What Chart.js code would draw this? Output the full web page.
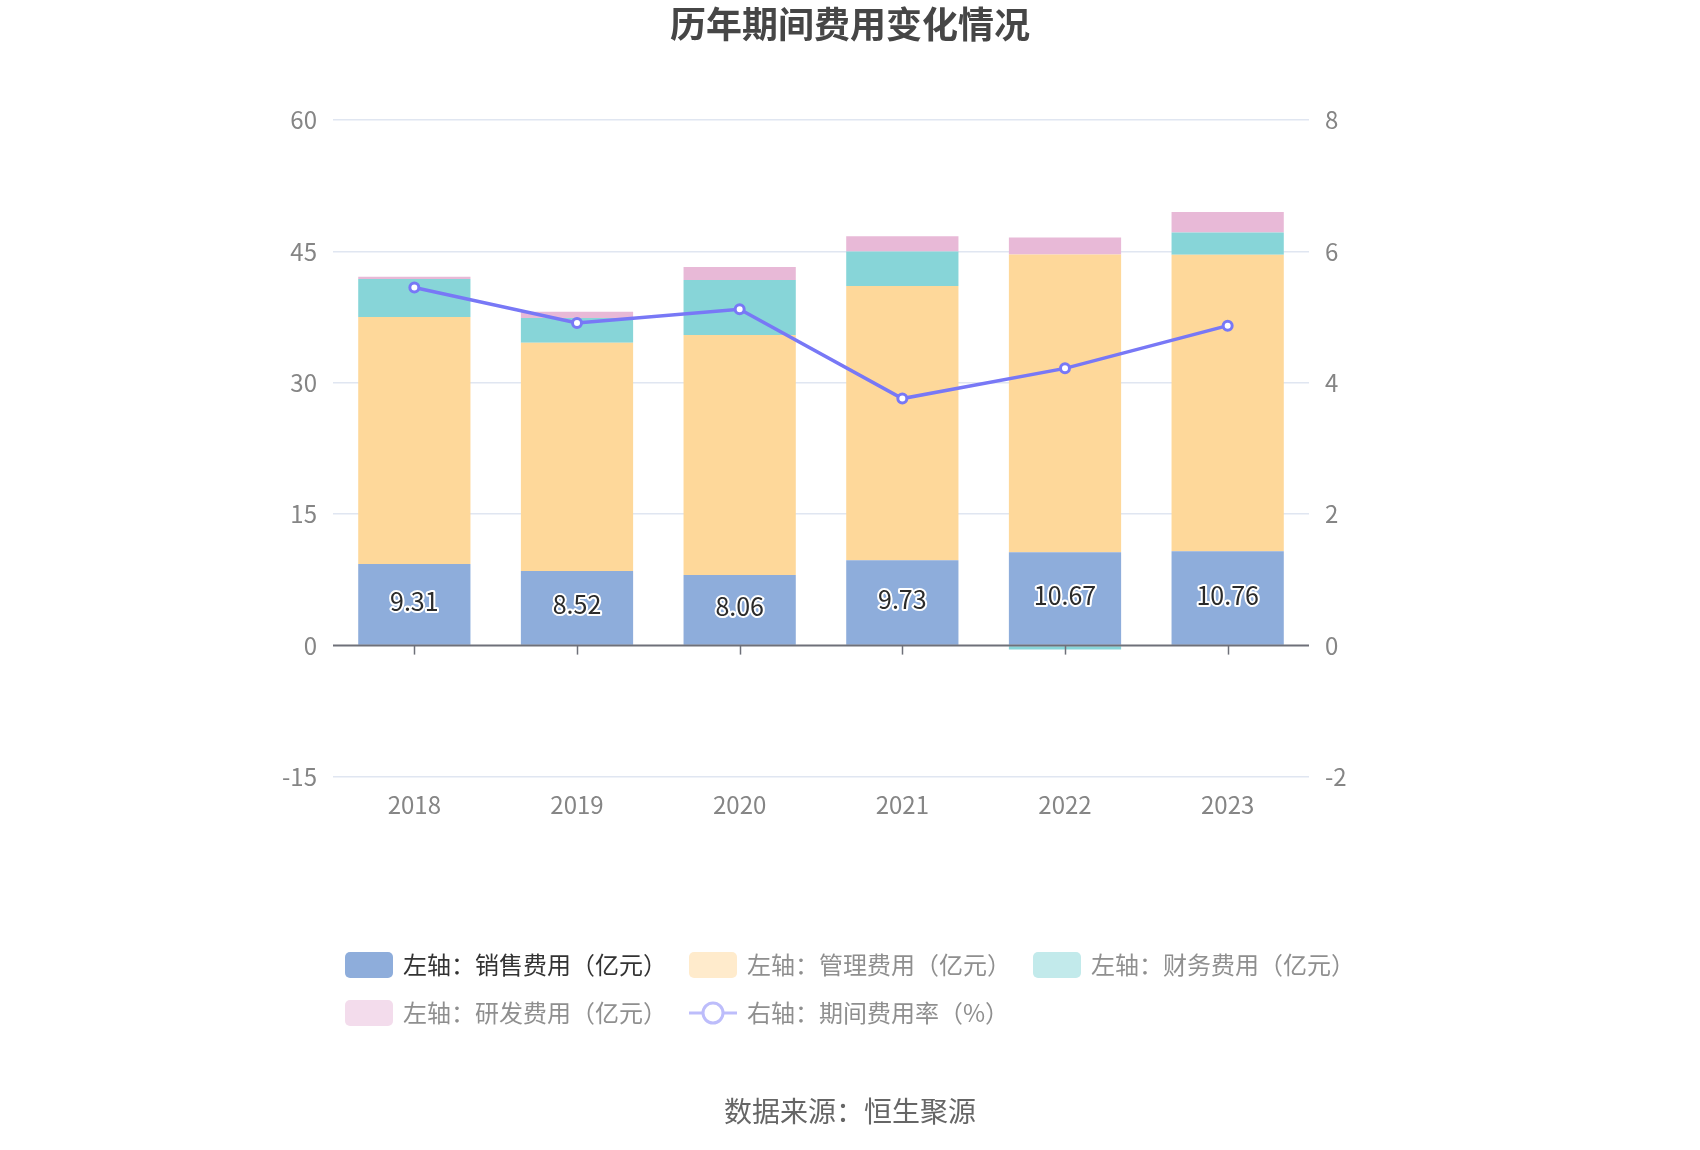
<!DOCTYPE html>
<html lang="zh-CN">
<head>
  <meta charset="UTF-8">
  <title>历年期间费用变化情况</title>
  <script src="https://cdn.jsdelivr.net/npm/chart.js"></script>
  <style>
    body {
      margin: 0;
      background: #ffffff;
    }

    canvas {
      display: block;
    }
  </style>
</head>
<body>
  <canvas id="feeChart" width="1700" height="1150"></canvas>
  <script>
    // data
    const years = ['2018', '2019', '2020', '2021', '2022', '2023'];
    const salesFee = [9.31, 8.52, 8.06, 9.73, 10.67, 10.76];
    const adminFee = [28.21, 26.04, 27.41, 31.32, 33.98, 33.85];
    const financeFee = [4.32, 2.84, 6.26, 3.94, -0.45, 2.54];
    const rdFee = [0.27, 0.72, 1.48, 1.75, 1.93, 2.36];
    const feeRate = [5.45, 4.91, 5.12, 3.76, 4.22, 4.87];
    const leftTicks = [-15, 0, 15, 30, 45, 60];
    const rightTicks = [-2, 0, 2, 4, 6, 8];
    const seriesNames = [
      '左轴：销售费用（亿元）',
      '左轴：管理费用（亿元）',
      '左轴：财务费用（亿元）',
      '左轴：研发费用（亿元）',
      '右轴：期间费用率（%）'
    ];
    const chartTitle = '历年期间费用变化情况';
    const sourceText = '数据来源：恒生聚源';

    const FONT = '"Noto Sans CJK SC", "Noto Sans", sans-serif';
    const barColors = ['#8eaddb', '#fed89a', '#87d5d8', '#e8b9d7'];
    const lineColor = '#7878f6';
    // legend swatches: first item active, the rest faded
    const legendColors = ['#8eaddb', '#ffebcc', '#c2eaeb', '#f3dcec', '#bdbdfb'];
    const legendText = ['#333333', '#8f8f8f', '#8f8f8f', '#8f8f8f', '#8f8f8f'];
    const axisColor = '#6e7079';

    function roundRect(ctx, x, y, w, h, r) {
      ctx.beginPath();
      ctx.moveTo(x + r, y);
      ctx.arcTo(x + w, y, x + w, y + h, r);
      ctx.arcTo(x + w, y + h, x, y + h, r);
      ctx.arcTo(x, y + h, x, y, r);
      ctx.arcTo(x, y, x + w, y, r);
      ctx.closePath();
    }

    const decor = {
      id: 'decor',
      afterDatasetsDraw(chart) {
        const { ctx, chartArea, scales } = chart;
        const y0 = scales.y.getPixelForValue(0);
        ctx.save();
        // zero axis line with ticks
        ctx.strokeStyle = axisColor;
        ctx.lineWidth = 2;
        ctx.beginPath();
        ctx.moveTo(chartArea.left, y0);
        ctx.lineTo(chartArea.right, y0);
        ctx.stroke();
        ctx.lineWidth = 1.5;
        years.forEach((_, i) => {
          const x = Math.round(scales.x.getPixelForValue(i)) + 0.5;
          ctx.beginPath();
          ctx.moveTo(x, y0);
          ctx.lineTo(x, y0 + 9);
          ctx.stroke();
        });
        // sales labels inside the bars
        const meta = chart.getDatasetMeta(0);
        ctx.font = '25px ' + FONT;
        ctx.textAlign = 'center';
        ctx.textBaseline = 'middle';
        ctx.lineJoin = 'round';
        meta.data.forEach((bar, i) => {
          const label = salesFee[i].toFixed(2);
          const cy = (bar.y + bar.base) / 2 - 3;
          ctx.strokeStyle = '#ffffff';
          ctx.lineWidth = 4;
          ctx.strokeText(label, bar.x, cy);
          ctx.fillStyle = '#2b2b2b';
          ctx.fillText(label, bar.x, cy);
        });
        ctx.restore();
      },
      afterDraw(chart) {
        const { ctx, chartArea, width } = chart;
        ctx.save();
        // title
        ctx.font = 'bold 36px ' + FONT;
        ctx.fillStyle = '#464646';
        ctx.textAlign = 'center';
        ctx.textBaseline = 'middle';
        ctx.fillText(chartTitle, width / 2, 24);

        // legend, rows of three, left aligned
        ctx.font = '24px ' + FONT;
        ctx.textAlign = 'left';
        const startX = chartArea.left + 12;
        const rowY = [chartArea.bottom + 188, chartArea.bottom + 236];
        let x = startX;
        seriesNames.forEach((name, i) => {
          const row = Math.floor(i / 3);
          if (i % 3 === 0) x = startX;
          const cy = rowY[row];
          if (i < 4) {
            ctx.fillStyle = legendColors[i];
            roundRect(ctx, x, cy - 13, 48, 26, 5);
            ctx.fill();
          } else {
            ctx.strokeStyle = legendColors[i];
            ctx.lineWidth = 3;
            ctx.beginPath();
            ctx.moveTo(x, cy);
            ctx.lineTo(x + 48, cy);
            ctx.stroke();
            ctx.beginPath();
            ctx.arc(x + 24, cy, 10, 0, Math.PI * 2);
            ctx.fillStyle = '#ffffff';
            ctx.fill();
            ctx.stroke();
          }
          ctx.fillStyle = legendText[i];
          ctx.fillText(name, x + 58, cy);
          x += 48 + 10 + ctx.measureText(name).width + 22;
        });

        // source
        ctx.font = '28px ' + FONT;
        ctx.fillStyle = '#666666';
        ctx.textAlign = 'center';
        ctx.fillText(sourceText, width / 2, 1111);
        ctx.restore();
      }
    };

    const barSet = (label, data, color) => ({
      type: 'bar',
      label: label,
      data: data,
      backgroundColor: color,
      borderWidth: 0,
      stack: 'fee',
      yAxisID: 'y',
      barPercentage: 0.69,
      categoryPercentage: 1.0,
      order: 1
    });

    const tickFont = { family: FONT, size: 24 };

    new Chart(document.getElementById('feeChart'), {
      data: {
        labels: years,
        datasets: [
          barSet(seriesNames[0], salesFee, barColors[0]),
          barSet(seriesNames[1], adminFee, barColors[1]),
          barSet(seriesNames[2], financeFee, barColors[2]),
          barSet(seriesNames[3], rdFee, barColors[3]),
          {
            type: 'line',
            label: seriesNames[4],
            data: feeRate,
            yAxisID: 'y1',
            borderColor: lineColor,
            borderWidth: 3.5,
            pointRadius: 4.5,
            pointBorderWidth: 3,
            pointBackgroundColor: '#ffffff',
            pointBorderColor: lineColor,
            tension: 0,
            order: 0
          }
        ]
      },
      options: {
        responsive: false,
        animation: false,
        devicePixelRatio: 1,
        layout: {
          padding: { top: 120, left: 263, right: 321, bottom: 313 }
        },
        scales: {
          x: {
            stacked: true,
            grid: { display: false },
            border: { display: false },
            ticks: { color: '#858585', font: tickFont, padding: 5 },
            afterFit(scale) { scale.height = 60; }
          },
          y: {
            stacked: true,
            position: 'left',
            min: leftTicks[0],
            max: leftTicks[leftTicks.length - 1],
            ticks: {
              stepSize: leftTicks[1] - leftTicks[0],
              color: '#858585',
              font: tickFont,
              padding: 16
            },
            grid: {
              drawTicks: false,
              lineWidth: 1.5,
              color: ctx => ctx.tick && ctx.tick.value === 0 ? 'rgba(0,0,0,0)' : '#e0e6f1'
            },
            border: { display: false },
            afterFit(scale) { scale.width = 70; }
          },
          y1: {
            position: 'right',
            min: rightTicks[0],
            max: rightTicks[rightTicks.length - 1],
            ticks: {
              stepSize: rightTicks[1] - rightTicks[0],
              color: '#858585',
              font: tickFont,
              padding: 16
            },
            grid: { display: false, drawTicks: false },
            border: { display: false },
            afterFit(scale) { scale.width = 70; }
          }
        },
        plugins: {
          legend: { display: false },
          tooltip: { enabled: false },
          title: { display: false }
        }
      },
      plugins: [decor]
    });
  </script>
</body>
</html>
